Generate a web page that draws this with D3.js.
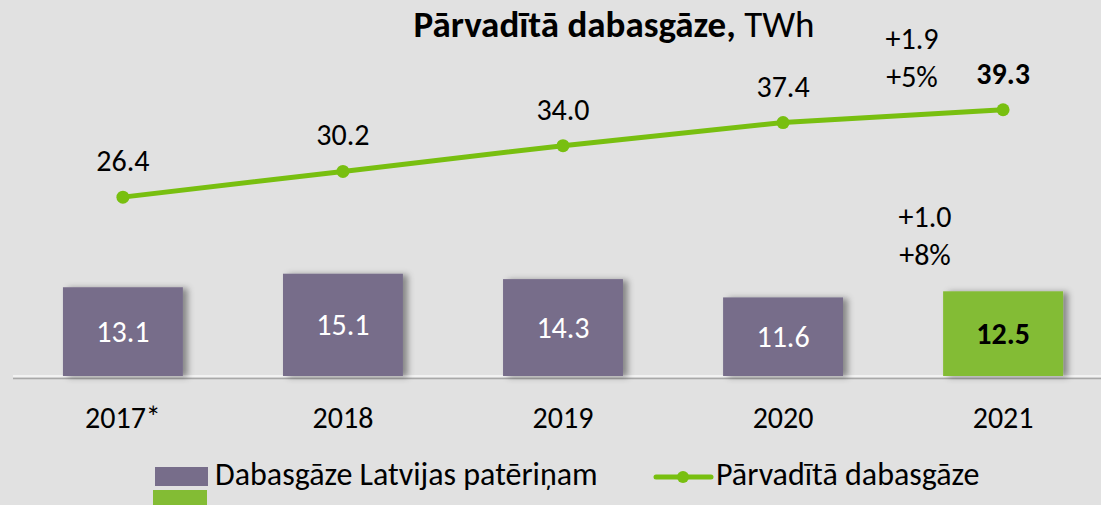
<!DOCTYPE html>
<html>
<head>
<meta charset="utf-8">
<script src="https://cdn.jsdelivr.net/npm/d3@7"></script>
<style>
  body { margin: 0; background: #e1e1e1; }
  svg { display: block; font-family: Calibri, Carlito, "Open Sans", sans-serif; }
</style>
</head>
<body>
<div id="chart"></div>
<script>
// data
const years = ['2017*', '2018', '2019', '2020', '2021'];
const consumption = [13.1, 15.1, 14.3, 11.6, 12.5];   // Dabasgāze Latvijas patēriņam
const transported = [26.4, 30.2, 34.0, 37.4, 39.3];   // Pārvadītā dabasgāze
const barLabels = ['13.1', '15.1', '14.3', '11.6', '12.5'];
const lineLabels = ['26.4', '30.2', '34.0', '37.4', '39.3'];
const lineNotes = ['+1.9', '+5%'];
const barNotes = ['+1.0', '+8%'];

const width = 1101, height = 505;
const purple = '#776d8a', green = '#83bc34', lineGreen = '#78bf10';
const fs = 30;

const svg = d3.select('#chart').append('svg')
  .attr('width', width).attr('height', height);

svg.append('rect').attr('width', width).attr('height', height).attr('fill', '#e1e1e1');

const defs = svg.append('defs');
const f = defs.append('filter').attr('id', 'shadow')
  .attr('x', '-10%').attr('y', '-10%').attr('width', '130%').attr('height', '130%');
f.append('feDropShadow').attr('dx', 5).attr('dy', 1).attr('stdDeviation', 3)
  .attr('flood-color', '#000').attr('flood-opacity', 0.4);

const x = d3.scaleBand().domain(years).range([13, 1113]).paddingInner(0.455).paddingOuter(0.227);
const y = d3.scaleLinear().domain([0, 40]).range([376, 105]);

// axis line
svg.append('line').attr('x1', 13).attr('x2', width).attr('y1', y(0) + 2.5).attr('y2', y(0) + 2.5)
  .attr('stroke', '#a8a8a8').attr('stroke-width', 1.5);
svg.append('line').attr('x1', 13).attr('x2', width).attr('y1', y(0)).attr('y2', y(0))
  .attr('stroke', '#f2f2f2').attr('stroke-width', 2);

// bars
svg.selectAll('.bar').data(consumption).enter().append('rect')
  .attr('class', 'bar')
  .attr('x', (d, i) => x(years[i]))
  .attr('y', d => y(d))
  .attr('width', x.bandwidth())
  .attr('height', d => y(0) - y(d))
  .attr('fill', (d, i) => i === consumption.length - 1 ? green : purple)
  .attr('filter', 'url(#shadow)');

svg.selectAll('.barlabel').data(consumption).enter().append('text')
  .attr('x', (d, i) => x(years[i]) + x.bandwidth() / 2)
  .attr('y', d => (y(d) + y(0)) / 2 + 10.5)
  .attr('text-anchor', 'middle')
  .attr('font-size', fs)
  .attr('font-weight', (d, i) => i === consumption.length - 1 ? 'bold' : 'normal')
  .attr('fill', (d, i) => i === consumption.length - 1 ? '#000' : '#fff')
  .text((d, i) => barLabels[i]);

// line
const cx = (d, i) => x(years[i]) + x.bandwidth() / 2;
svg.append('path').datum(transported)
  .attr('fill', 'none').attr('stroke', lineGreen).attr('stroke-width', 5)
  .attr('d', d3.line().x(cx).y(d => y(d)));

svg.selectAll('.dot').data(transported).enter().append('circle')
  .attr('cx', cx).attr('cy', d => y(d)).attr('r', 6.5).attr('fill', lineGreen);

svg.selectAll('.linelabel').data(transported).enter().append('text')
  .attr('x', cx)
  .attr('y', d => y(d) - 26)
  .attr('text-anchor', 'middle')
  .attr('font-size', fs)
  .attr('font-weight', (d, i) => i === transported.length - 1 ? 'bold' : 'normal')
  .attr('fill', '#000')
  .text((d, i) => lineLabels[i]);

// change notes
svg.selectAll('.lnote').data(lineNotes).enter().append('text')
  .attr('x', 912).attr('y', (d, i) => 49 + i * 38)
  .attr('text-anchor', 'middle').attr('font-size', fs).text(d => d);
svg.selectAll('.bnote').data(barNotes).enter().append('text')
  .attr('x', 925).attr('y', (d, i) => 227 + i * 38)
  .attr('text-anchor', 'middle').attr('font-size', fs).text(d => d);

// x labels
svg.selectAll('.xlabel').data(years).enter().append('text')
  .attr('x', d => x(d) + x.bandwidth() / 2)
  .attr('y', 428)
  .attr('text-anchor', 'middle')
  .attr('font-size', fs)
  .text(d => d);

// title
const title = svg.append('text').attr('x', 614).attr('y', 37)
  .attr('text-anchor', 'middle').attr('font-size', 37);
title.append('tspan').attr('font-weight', 'bold').text('Pārvadītā dabasgāze,');
title.append('tspan').text(' TWh');

// legend
svg.append('rect').attr('x', 155).attr('y', 467).attr('width', 53).attr('height', 19).attr('fill', purple);
svg.append('rect').attr('x', 153).attr('y', 490).attr('width', 54).attr('height', 20).attr('fill', green);
svg.append('text').attr('x', 215).attr('y', 485).attr('font-size', 32).text('Dabasgāze Latvijas patēriņam');

svg.append('line').attr('x1', 656).attr('x2', 711).attr('y1', 477).attr('y2', 477)
  .attr('stroke', lineGreen).attr('stroke-width', 5).attr('stroke-linecap', 'round');
svg.append('circle').attr('cx', 683).attr('cy', 477).attr('r', 6).attr('fill', lineGreen);
svg.append('text').attr('x', 716).attr('y', 485).attr('font-size', 32).text('Pārvadītā dabasgāze');
</script>
</body>
</html>
